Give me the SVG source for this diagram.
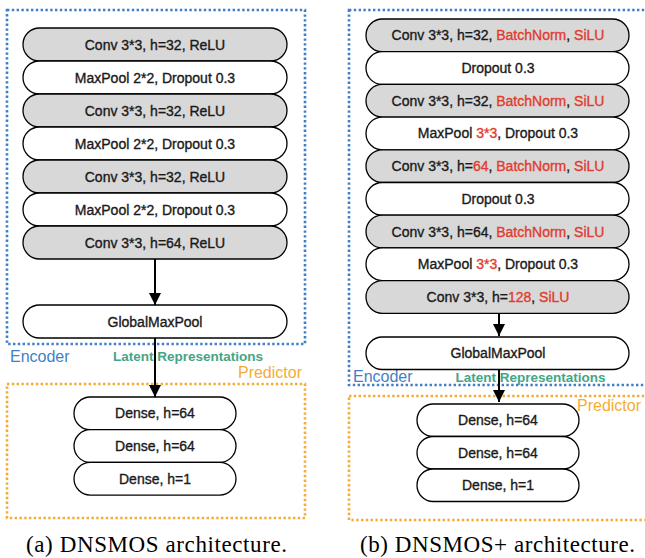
<svg xmlns="http://www.w3.org/2000/svg" width="645" height="558" viewBox="0 0 645 558">
  <style>
    .layer { stroke: #000; stroke-width: 1.3; }
    .conv { fill: #d8d8d8; }
    .plain { fill: #fff; }
    .lbl { font-family: "Liberation Sans", Arial, sans-serif; font-size: 14px; fill: #1a1a1a; text-anchor: middle; stroke: #1a1a1a; stroke-width: 0.35; }
    .hl { fill: #e23b2e; stroke: #e23b2e; }
    .enc { fill: none; stroke: #3f7fc6; stroke-width: 2.6; stroke-dasharray: 2.4 2.4; }
    .pred { fill: none; stroke: #f5ac36; stroke-width: 2.6; stroke-dasharray: 2.4 2.4; }
    .enc-t { font-family: "Liberation Sans", Arial, sans-serif; font-size: 16px; fill: #3f7fc6; }
    .pred-t { font-family: "Liberation Sans", Arial, sans-serif; font-size: 16px; fill: #f5ac36; }
    .lat { font-family: "Liberation Sans", Arial, sans-serif; font-size: 13.5px; font-weight: bold; fill: #45a585; text-anchor: middle; }
    .cap { font-family: "Liberation Serif", "Times New Roman", serif; font-size: 23px; fill: #000; }
    .flow { stroke: #000; stroke-width: 2; fill: none; marker-end: url(#head); }
  </style>
  <defs>
    <marker id="head" viewBox="0 0 12 12" refX="12" refY="6" markerWidth="12" markerHeight="12" markerUnits="userSpaceOnUse" orient="auto">
      <path d="M0,0 L12,6 L0,12 Z" fill="#000"/>
    </marker>
  </defs>

  <!-- (a) DNSMOS -->
  <g id="a-encoder-frame">
    <rect class="enc" x="7" y="10" width="298" height="334"/>
    <text class="enc-t" x="10" y="362">Encoder</text>
  </g>
  <g id="a-predictor-frame">
    <rect class="pred" x="7" y="384" width="298" height="134"/>
    <text class="pred-t" x="302" y="378" text-anchor="end">Predictor</text>
  </g>

  <g id="a-conv1"><rect class="layer conv" x="23" y="28" width="264" height="33" rx="16.5"/><text class="lbl" x="155" y="49.5">Conv 3*3, h=32, ReLU</text></g>
  <g id="a-pool1"><rect class="layer plain" x="23" y="61" width="264" height="33" rx="16.5"/><text class="lbl" x="155" y="82.5">MaxPool 2*2, Dropout 0.3</text></g>
  <g id="a-conv2"><rect class="layer conv" x="23" y="94" width="264" height="33" rx="16.5"/><text class="lbl" x="155" y="115.5">Conv 3*3, h=32, ReLU</text></g>
  <g id="a-pool2"><rect class="layer plain" x="23" y="127" width="264" height="33" rx="16.5"/><text class="lbl" x="155" y="148.5">MaxPool 2*2, Dropout 0.3</text></g>
  <g id="a-conv3"><rect class="layer conv" x="23" y="160" width="264" height="33" rx="16.5"/><text class="lbl" x="155" y="181.5">Conv 3*3, h=32, ReLU</text></g>
  <g id="a-pool3"><rect class="layer plain" x="23" y="193" width="264" height="33" rx="16.5"/><text class="lbl" x="155" y="214.5">MaxPool 2*2, Dropout 0.3</text></g>
  <g id="a-conv4"><rect class="layer conv" x="23" y="226" width="264" height="33" rx="16.5"/><text class="lbl" x="155" y="247.5">Conv 3*3, h=64, ReLU</text></g>
  <g id="a-gmp"><rect class="layer plain" x="23" y="305" width="264" height="33" rx="16.5"/><text class="lbl" x="155" y="326.5">GlobalMaxPool</text></g>
  <g id="a-dense1"><rect class="layer plain" x="74" y="397" width="162" height="32.7" rx="16.3"/><text class="lbl" x="155" y="418.3">Dense, h=64</text></g>
  <g id="a-dense2"><rect class="layer plain" x="74" y="429.7" width="162" height="32.7" rx="16.3"/><text class="lbl" x="155" y="451">Dense, h=64</text></g>
  <g id="a-dense3"><rect class="layer plain" x="74" y="462.4" width="162" height="32.7" rx="16.3"/><text class="lbl" x="155" y="483.7">Dense, h=1</text></g>

  <text class="lat" x="188" y="361">Latent Representations</text>

  <!-- (b) DNSMOS+ -->
  <g id="b-encoder-frame">
    <rect class="enc" x="349" y="10" width="310" height="375"/>
    <text class="enc-t" x="353" y="382">Encoder</text>
  </g>
  <g id="b-predictor-frame">
    <rect class="pred" x="349" y="396" width="310" height="124"/>
    <text class="pred-t" x="577" y="411">Predictor</text>
  </g>

  <g id="b-conv1"><rect class="layer conv" x="366" y="19" width="263" height="32.7" rx="16.3"/><text class="lbl" x="498" y="40.3">Conv 3*3, h=32, <tspan class="hl">BatchNorm</tspan>, <tspan class="hl">SiLU</tspan></text></g>
  <g id="b-drop1"><rect class="layer plain" x="366" y="51.7" width="263" height="32.7" rx="16.3"/><text class="lbl" x="498" y="73">Dropout 0.3</text></g>
  <g id="b-conv2"><rect class="layer conv" x="366" y="84.4" width="263" height="32.7" rx="16.3"/><text class="lbl" x="498" y="105.7">Conv 3*3, h=32, <tspan class="hl">BatchNorm</tspan>, <tspan class="hl">SiLU</tspan></text></g>
  <g id="b-pool1"><rect class="layer plain" x="366" y="117.1" width="263" height="32.7" rx="16.3"/><text class="lbl" x="498" y="138.4">MaxPool <tspan class="hl">3*3</tspan>, Dropout 0.3</text></g>
  <g id="b-conv3"><rect class="layer conv" x="366" y="149.8" width="263" height="32.7" rx="16.3"/><text class="lbl" x="498" y="171.1">Conv 3*3, h=<tspan class="hl">64</tspan>, <tspan class="hl">BatchNorm</tspan>, <tspan class="hl">SiLU</tspan></text></g>
  <g id="b-drop2"><rect class="layer plain" x="366" y="182.5" width="263" height="32.7" rx="16.3"/><text class="lbl" x="498" y="203.8">Dropout 0.3</text></g>
  <g id="b-conv4"><rect class="layer conv" x="366" y="215.2" width="263" height="32.7" rx="16.3"/><text class="lbl" x="498" y="236.5">Conv 3*3, h=64, <tspan class="hl">BatchNorm</tspan>, <tspan class="hl">SiLU</tspan></text></g>
  <g id="b-pool2"><rect class="layer plain" x="366" y="247.9" width="263" height="32.7" rx="16.3"/><text class="lbl" x="498" y="269.2">MaxPool <tspan class="hl">3*3</tspan>, Dropout 0.3</text></g>
  <g id="b-conv5"><rect class="layer conv" x="366" y="280.6" width="263" height="32.7" rx="16.3"/><text class="lbl" x="498" y="301.9">Conv 3*3, h=<tspan class="hl">128</tspan>, <tspan class="hl">SiLU</tspan></text></g>
  <g id="b-gmp"><rect class="layer plain" x="366" y="337" width="263" height="32.5" rx="16.2"/><text class="lbl" x="498" y="358.2">GlobalMaxPool</text></g>
  <g id="b-dense1"><rect class="layer plain" x="417" y="404" width="162" height="32.5" rx="16.2"/><text class="lbl" x="498" y="425.2">Dense, h=64</text></g>
  <g id="b-dense2"><rect class="layer plain" x="417" y="436.5" width="162" height="32.5" rx="16.2"/><text class="lbl" x="498" y="457.7">Dense, h=64</text></g>
  <g id="b-dense3"><rect class="layer plain" x="417" y="469" width="162" height="32.5" rx="16.2"/><text class="lbl" x="498" y="490.2">Dense, h=1</text></g>

  <text class="lat" x="530.5" y="382">Latent Representations</text>

  <g id="connectors">
    <line class="flow" x1="155" y1="259" x2="155" y2="305"/>
    <line class="flow" x1="155" y1="338" x2="155" y2="397"/>
    <line class="flow" x1="499" y1="313.3" x2="499" y2="336"/>
    <line class="flow" x1="499" y1="369.5" x2="499" y2="402"/>
  </g>

  <text class="cap" x="26" y="552" textLength="261" lengthAdjust="spacing">(a) DNSMOS architecture.</text>
  <text class="cap" x="360" y="552" textLength="275" lengthAdjust="spacing">(b) DNSMOS+ architecture.</text>
</svg>
